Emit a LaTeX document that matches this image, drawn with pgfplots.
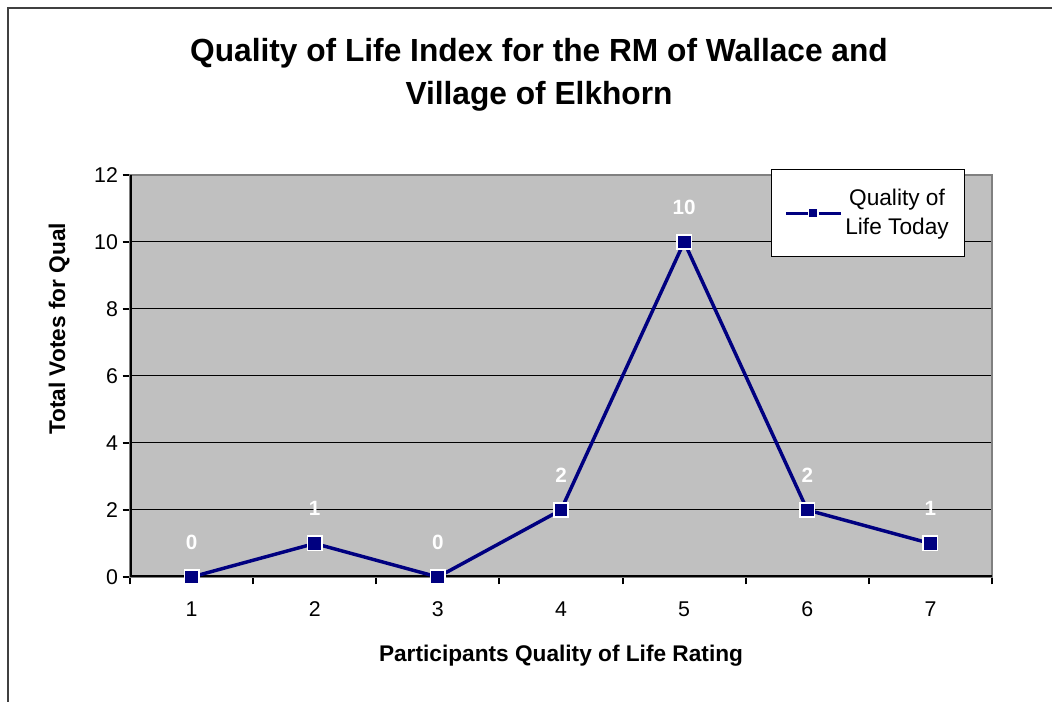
\documentclass[border=0pt]{standalone}
\usepackage{fontspec}
\setmainfont{Liberation Sans}
\usepackage{pgfplots}
\pgfplotsset{compat=1.18}
\definecolor{navy}{RGB}{0,0,128}
\definecolor{plotgray}{RGB}{192,192,192}
\definecolor{bordergray}{RGB}{128,128,128}
\definecolor{framegray}{RGB}{64,64,64}
\begin{document}
\begin{tikzpicture}
\useasboundingbox (0pt,0pt) rectangle (789pt,526.5pt);
\draw[framegray, line width=1.5pt] (6pt,0pt) -- (6pt,520.5pt) -- (789pt,520.5pt);
\node[anchor=base, font=\bfseries\fontsize{24}{32}\selectfont] at (404.25pt,480pt) {\scalebox{0.99}[1]{Quality of Life Index for the RM of Wallace and}};
\node[anchor=base, font=\bfseries\fontsize{24}{32}\selectfont] at (404.25pt,447.75pt) {\scalebox{0.99}[1]{Village of Elkhorn}};
\begin{axis}[
  at={(97.5pt,93.75pt)}, anchor=south west,
  scale only axis, width=646.5pt, height=301.5pt,
  xmin=0.5, xmax=7.5, ymin=0, ymax=12,
  /pgf/number format/assume math mode=true,
  axis background/.style={fill=plotgray},
  axis line style={draw=bordergray, line width=1.5pt},
  xtick={0.5,1.5,...,7.5}, xticklabels={},
  extra x ticks={1,2,3,4,5,6,7},
  extra x tick labels={1,2,3,4,5,6,7},
  extra x tick style={major tick length=0pt, grid=none},
  ytick={0,2,...,12},
  ymajorgrids, grid style={black, line width=0.75pt},
  tick align=outside, tick pos=left,
  major tick length=5.5pt,
  tick style={black, line width=1.5pt},
  ticklabel style={font=\fontsize{16}{18}\selectfont},
  xticklabel style={anchor=base, yshift=-30pt},
  yticklabel style={anchor=east},
  xlabel={Participants Quality of Life Rating},
  ylabel={Total Votes for Qual},
  label style={font=\bfseries\fontsize{17}{20}\selectfont},
  xlabel style={at={(rel axis cs:0.5,-0.2114)}, anchor=base},
  ylabel style={at={(rel axis cs:-0.0754,0.617)}, anchor=base},
  legend style={at={(rel axis cs:0.7436,1.015)}, anchor=north west,
    draw=black, line width=0.75pt, fill=white,
    font=\fontsize{17}{21.75}\selectfont,
    cells={align=center},
    inner xsep=10pt, inner ysep=13pt,
    /tikz/every even column/.append style={column sep=-5pt}},
  legend image code/.code={
    \draw[navy, line width=2.4pt] (0pt,0pt) -- (41pt,0pt);
    \filldraw[navy, draw=white, line width=0.9pt] (16.5pt,-3.6pt) rectangle (23.7pt,3.6pt);
  },
]
\draw[black, line width=2.25pt] (rel axis cs:0,1) -- (rel axis cs:0,0) -- (rel axis cs:1,0);
\addplot[navy, line width=2.6pt, mark=square*,
  mark options={fill=navy, draw=white, line width=1.2pt, mark size=5.4pt},
  nodes near coords,
  nodes near coords style={font=\bfseries\fontsize{15.5}{18}\selectfont, text=white, anchor=center, yshift=26pt}]
  coordinates {(1,0) (2,1) (3,0) (4,2) (5,10) (6,2) (7,1)};
\addlegendentry{Quality of\\Life Today}
\end{axis}
\end{tikzpicture}
\end{document}
